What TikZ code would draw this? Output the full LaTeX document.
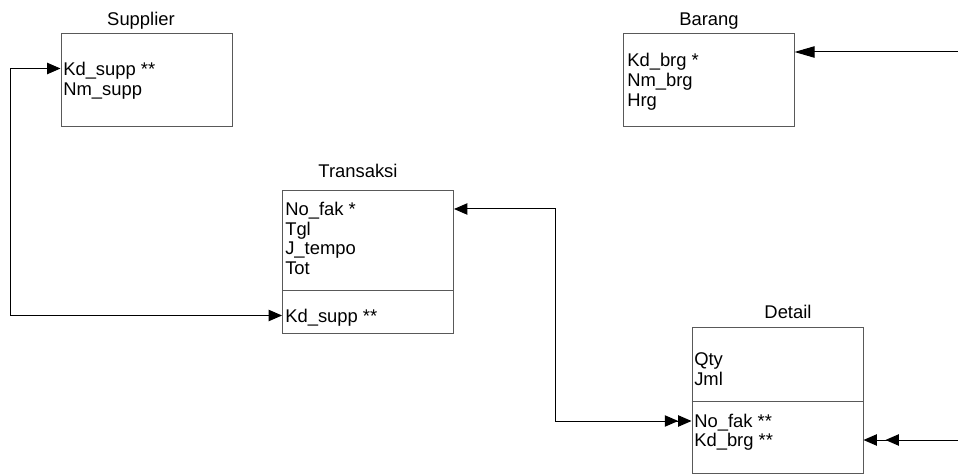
\documentclass[tikz,border=0pt]{standalone}
\usepackage{fontspec}
\setmainfont{Liberation Sans}
\usetikzlibrary{arrows.meta, positioning}

\tikzstyle{entity} = [rectangle, draw=black!65, line width=0.75pt,
  minimum width=128.25pt, inner sep=0pt]
\tikzstyle{title} = [inner sep=0pt, text height=9.8pt, text depth=0pt,
  font=\fontsize{13.8}{16}\selectfont]
\tikzstyle{field} = [title, anchor=west]
\tikzstyle{link} = [line width=0.75pt]

\begin{document}
\begin{tikzpicture}[x=0.75pt, y=-0.75pt, >={Triangle[length=10pt, width=8.5pt]}]
  \useasboundingbox (0,0) rectangle (958,474);

  % tables
  \node[entity, minimum height=69.75pt] (supp) at (146.5,80.5) {};
  \node[entity, minimum height=69.75pt] (brg) at (708.5,80.5) {};
  \node[entity, minimum height=107.25pt] (trans) at (368,262.5) {};
  \node[entity, minimum height=108.75pt] (det) at (777.5,400.5) {};

  \draw[draw=black!65, line width=0.75pt] (trans.west |- 0,291) -- (trans.east |- 0,291);
  \draw[draw=black!65, line width=0.75pt] (det.west |- 0,401) -- (det.east |- 0,401);

  \node[title] (supp-t) at (141,19) {Supplier};
  \node[title] (brg-t) at (709,19) {Barang};
  \node[title] (trans-t) at (358,171) {Transaksi};
  \node[title] (det-t) at (788,312) {Detail};

  % fields
  \node[field] (supp-kd) at (63,68.5) {Kd\_supp **};
  \node[field] (supp-nm) at (63,88.5) {Nm\_supp};

  \node[field] (brg-kd) at (627,59.5) {Kd\_brg *};
  \node[field] (brg-nm) at (627,79.5) {Nm\_brg};
  \node[field] (brg-hrg) at (627,99.5) {Hrg};

  \node[field] (trans-no) at (285,209) {No\_fak *};
  \node[field] (trans-tgl) at (285,228.5) {Tgl};
  \node[field] (trans-jt) at (285,248) {J\_tempo};
  \node[field] (trans-tot) at (285,267.5) {Tot};
  \node[field] (trans-kd) at (285,315.5) {Kd\_supp **};

  \node[field] (det-qty) at (694,359) {Qty};
  \node[field] (det-jml) at (694,379) {Jml};
  \node[field] (det-no) at (694,421) {No\_fak **};
  \node[field] (det-kd) at (694,440) {Kd\_brg **};

  % relations
  \coordinate (loop) at (10,0);
  \coordinate (bend) at (555,0);
  \coordinate (brg-in) at (958,52);
  \coordinate (det-in) at (958,440);

  \draw[link, <->] (supp.west |- supp-kd) -- (loop |- supp-kd)
    -- (loop |- trans-kd) -- (trans.west |- trans-kd);
  \draw[link, <->>] (trans.east |- trans-no) -- (bend |- trans-no)
    -- (bend |- det-no) -- (det.west |- det-no);
  \draw[link, -{Triangle[length=15pt, width=8.5pt]}] (brg-in) -- (brg.east |- brg-in);
  \draw[link, ->] (det-in) -- (det.east |- det-kd);
  \draw[link, ->] (det-in) -- ([xshift=16.5pt]det.east |- det-kd);

\end{tikzpicture}
\end{document}
